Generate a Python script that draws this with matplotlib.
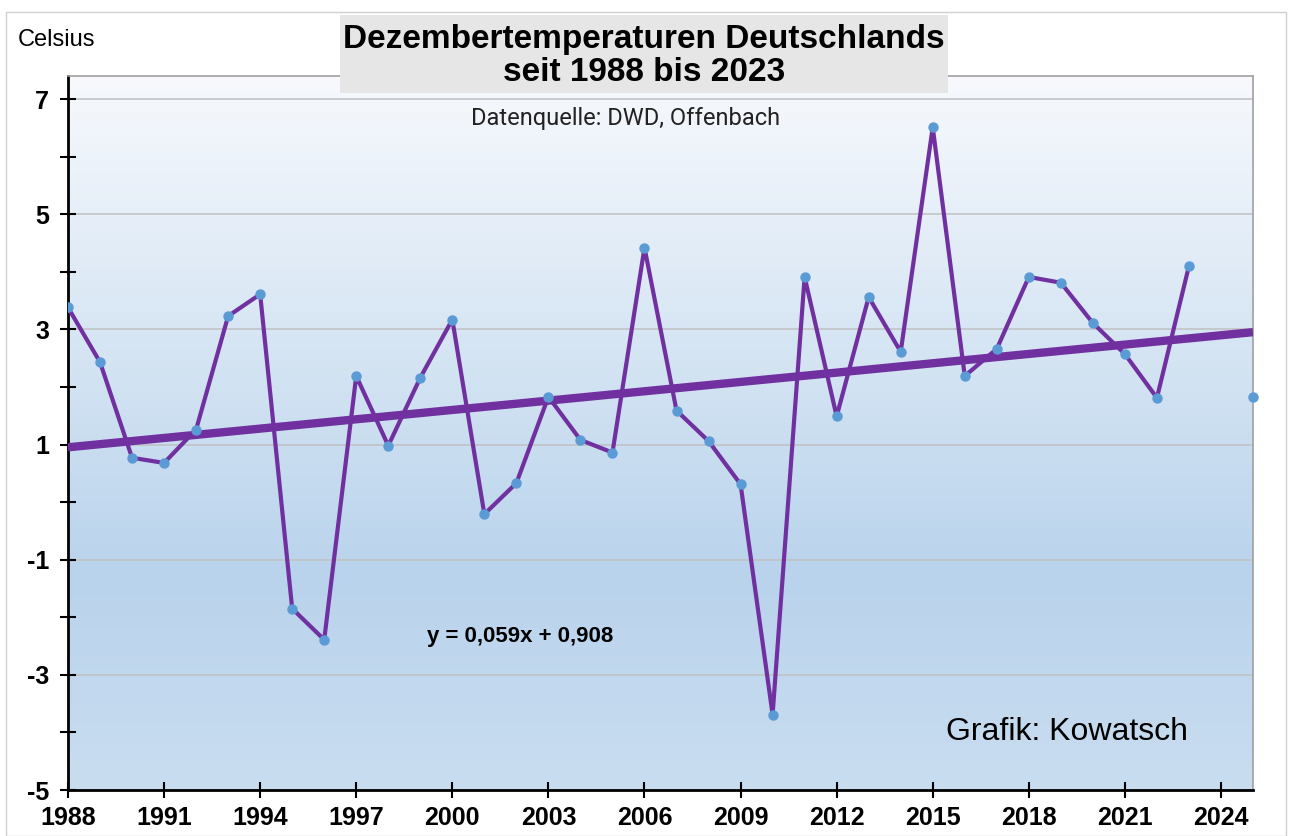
import numpy as np
import matplotlib
matplotlib.use("Agg")
import matplotlib.pyplot as plt
from matplotlib.colors import LinearSegmentedColormap
from matplotlib.patches import Rectangle

# Dezembertemperaturen Deutschland (DWD)
years = list(range(1988, 2024))
temps = [3.38, 2.43, 0.77, 0.68, 1.26, 3.23, 3.61, -1.85, -2.39, 2.19,
         0.98, 2.16, 3.17, -0.21, 0.33, 1.83, 1.08, 0.86, 4.42, 1.59,
         1.06, 0.31, -3.69, 3.91, 1.49, 3.56, 2.61, 6.51, 2.19, 2.66,
         3.91, 3.81, 3.11, 2.57, 1.81, 4.10]
extra_year = [2025]
extra_temp = [1.82]

x_ticks = list(range(1988, 2025, 3))
y_major = [-5, -3, -1, 1, 3, 5, 7]
y_minor = list(range(-5, 8))

purple = "#7030A0"
blue = "#5B9BD5"

plt.rcParams["font.family"] = ["Liberation Sans", "DejaVu Sans"]
plt.rcParams["axes.unicode_minus"] = False

fig = plt.figure(figsize=(12.9, 8.36), dpi=100)
ax = fig.add_axes([68 / 1290, 1 - 790 / 836, (1253 - 68) / 1290, (790 - 76) / 836])

xmin, xmax = 1988, 2025
ymin, ymax = -5, 7.4

# Hintergrundverlauf
cmap = LinearSegmentedColormap.from_list(
    "bg", [(0.0, "#C9DDF0"), (0.3, "#B9D3EC"), (0.6, "#D4E4F3"), (1.0, "#F7F9FD")])
grad = np.linspace(0, 1, 256).reshape(-1, 1)
ax.imshow(grad, extent=[xmin, xmax, ymin, ymax], origin="lower", aspect="auto",
          cmap=cmap, zorder=0)

for v in y_major:
    ax.axhline(v, color="#C0C0C0", lw=1.1, zorder=1)

# Trendlinie (lineare Regression über Jahresindex, alle Punkte)
all_x = np.array(years + extra_year) - 1987
all_y = np.array(temps + extra_temp)
slope, inter = np.polyfit(all_x, all_y, 1)
tx = np.array([xmin, xmax])
ax.plot(tx, slope * (tx - 1987) + inter, color=purple, lw=6, zorder=3,
        solid_capstyle="butt")

ax.plot(years, temps, color=purple, lw=3, marker="o", markersize=6.5,
        markerfacecolor=blue, markeredgecolor=blue, zorder=4)
ax.plot(extra_year, extra_temp, linestyle="none", marker="o", markersize=6.5,
        markerfacecolor=blue, markeredgecolor=blue, zorder=4, clip_on=False)

ax.set_xlim(xmin, xmax)
ax.set_ylim(ymin, ymax)
ax.set_xticks(x_ticks)
ax.set_yticks(y_major)
ax.set_yticks(y_minor, minor=True)
ax.tick_params(axis="both", which="both", direction="inout", length=11, width=1.5,
               labelsize=18, colors="black")
ax.tick_params(axis="y", which="minor", length=11)
ax.tick_params(axis="y", pad=8)
ax.tick_params(axis="x", pad=6)
for lab in ax.get_xticklabels() + ax.get_yticklabels():
    lab.set_fontweight("bold")

for s in ["left", "bottom"]:
    ax.spines[s].set_linewidth(2)
    ax.spines[s].set_color("black")
for s in ["top", "right"]:
    ax.spines[s].set_linewidth(1.2)
    ax.spines[s].set_color("#A0A0A0")

ax.text(1999.2, -2.34, "y = 0,059x + 0,908", fontsize=16, fontweight="bold",
        va="center", ha="left")
ax.text(2019.2, -4.0, "Grafik: Kowatsch", fontsize=23, va="center", ha="center")
ax.text(2005.4, 6.67, "Datenquelle: DWD, Offenbach", fontsize=17, va="center",
        ha="center", family=["Roboto", "DejaVu Sans"], color="#222222")

# Rahmen und Titelkasten
fig.add_artist(Rectangle((6 / 1290, 0), 1280 / 1290, 1 - 12 / 836,
                         transform=fig.transFigure, fill=False,
                         edgecolor="#D0D0D0", lw=1))
fig.add_artist(Rectangle((340 / 1290, 1 - 93 / 836), 608 / 1290, 78 / 836,
                         transform=fig.transFigure, facecolor="#E6E6E6",
                         edgecolor="none", zorder=5))
fig.text(644 / 1290, 1 - 56 / 836, "Dezembertemperaturen Deutschlands\nseit 1988 bis 2023",
         ha="center", va="center", fontsize=24, fontweight="bold",
         linespacing=1.1, zorder=6)
fig.text(18 / 1290, 1 - 40 / 836, "Celsius", fontsize=17, va="center", ha="left")

fig.savefig("out.png", dpi=100)
